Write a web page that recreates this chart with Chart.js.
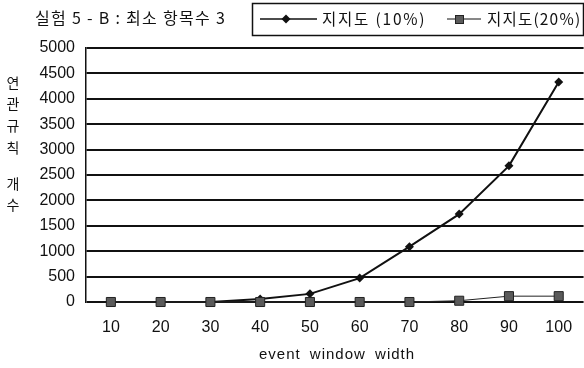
<!DOCTYPE html>
<html>
<head>
<meta charset="utf-8">
<script src="https://cdn.jsdelivr.net/npm/chart.js@4.4.1/dist/chart.umd.min.js"></script>
<style>
  html, body { margin: 0; padding: 0; background: #fff; overflow: hidden; }
  #wrap { width: 591px; height: 368px; position: relative; }
</style>
</head>
<body>
<div id="wrap"><canvas id="chart"></canvas></div>
<script>
// --- Dados ---
const chartTitle = '실험 5 - B : 최소 항목수 3';
const yTitleChars = ['연', '관', '규', '칙', '', '개', '수'];
const xTitle = 'event window width';
const windowWidths = ['10', '20', '30', '40', '50', '60', '70', '80', '90', '100'];
const support10 = [0, 0, 0, 60, 160, 470, 1090, 1730, 2680, 4330];
const support20 = [0, 0, 0, 0, 0, 0, 0, 25, 115, 115];
const seriesLabels = ['지지도 (10%)', '지지도(20%)'];
const yMax = 5000;
const yStep = 500;

const FONT = "'Liberation Sans', 'Noto Sans CJK KR', Arial, sans-serif";
const KFONT = "'Noto Sans CJK KR', 'Liberation Sans', sans-serif";

// desenha título, legenda e títulos dos eixos
const decorPlugin = {
    id: 'decor',
    afterDraw(chart) {
        const ctx = chart.ctx;
        ctx.save();
        ctx.fillStyle = '#111';
        ctx.textBaseline = 'middle';
        ctx.textAlign = 'left';

        // título
        ctx.font = '16px ' + KFONT;
        ctx.letterSpacing = '1.3px';
        ctx.fillText(chartTitle, 35, 18);

        // caixa da legenda
        ctx.strokeStyle = '#111';
        ctx.lineWidth = 1.5;
        ctx.strokeRect(252.5, 3.5, 331, 32);

        const ly = 19;
        ctx.font = '15.5px ' + KFONT;
        ctx.letterSpacing = '1.8px';
        // série 1
        ctx.lineWidth = 1.5;
        ctx.beginPath(); ctx.moveTo(260, ly); ctx.lineTo(317, ly); ctx.stroke();
        ctx.beginPath();
        ctx.moveTo(286, ly - 4.5); ctx.lineTo(290.5, ly); ctx.lineTo(286, ly + 4.5); ctx.lineTo(281.5, ly);
        ctx.closePath(); ctx.fill();
        ctx.fillText(seriesLabels[0], 322, ly);
        // série 2
        ctx.letterSpacing = '1.2px';
        ctx.lineWidth = 1;
        ctx.beginPath(); ctx.moveTo(447, ly); ctx.lineTo(481, ly); ctx.stroke();
        ctx.fillStyle = '#5a5a5a';
        ctx.fillRect(455, ly - 4, 9, 9);
        ctx.strokeStyle = '#222';
        ctx.strokeRect(455.5, ly - 3.5, 8, 8);
        ctx.fillStyle = '#111';
        ctx.fillText(seriesLabels[1], 487, ly);

        // título do eixo X
        ctx.font = '15px ' + FONT;
        ctx.letterSpacing = '1px';
        ctx.wordSpacing = '4px';
        ctx.fillText(xTitle, 259, 355);
        ctx.wordSpacing = '0px';

        // título do eixo Y (vertical, letra por letra)
        ctx.font = '14px ' + KFONT;
        ctx.letterSpacing = '0px';
        ctx.textAlign = 'center';
        const ys = [83, 104, 126, 148, 0, 184, 205];
        yTitleChars.forEach((ch, i) => {
            if (ch) ctx.fillText(ch, 13, ys[i]);
        });
        ctx.restore();
    }
};

const ctx = document.getElementById('chart').getContext('2d');
const chart = new Chart(ctx, {
    type: 'line',
    data: {
        labels: windowWidths,
        datasets: [{
            label: seriesLabels[0],
            data: support10,
            borderColor: '#111',
            backgroundColor: '#111',
            borderWidth: 2,
            pointStyle: 'rectRot',
            pointRadius: 4.5,
            pointBorderWidth: 0,
            tension: 0,
            fill: false,
            clip: false,
            order: 1
        }, {
            label: seriesLabels[1],
            data: support20,
            borderColor: '#222',
            backgroundColor: '#5a5a5a',
            borderWidth: 1,
            pointStyle: 'rect',
            pointRadius: 6.4,
            pointBorderWidth: 1,
            pointBorderColor: '#222',
            tension: 0,
            fill: false,
            clip: false,
            order: 0
        }]
    },
    options: {
        responsive: true,
        maintainAspectRatio: false,
        animation: false,
        layout: { padding: { top: 48, left: 0, right: 0, bottom: 0 } },
        plugins: {
            legend: { display: false },
            tooltip: { enabled: false }
        },
        scales: {
            x: {
                offset: true,
                grid: { display: false, drawTicks: false },
                border: { display: false },
                ticks: { color: '#111', font: { family: FONT, size: 16 }, padding: 16 },
                afterFit(scale) { scale.height = 66; }
            },
            y: {
                min: 0,
                max: yMax,
                ticks: {
                    stepSize: yStep,
                    color: '#111',
                    font: { family: FONT, size: 16 },
                    padding: 11,
                    callback: (v) => String(v)
                },
                grid: { color: '#111', lineWidth: 2, drawTicks: false },
                border: { display: true, color: '#111', width: 1.5 },
                afterFit(scale) { scale.width = 86; }
            }
        }
    },
    plugins: [decorPlugin]
});
</script>
</body>
</html>
